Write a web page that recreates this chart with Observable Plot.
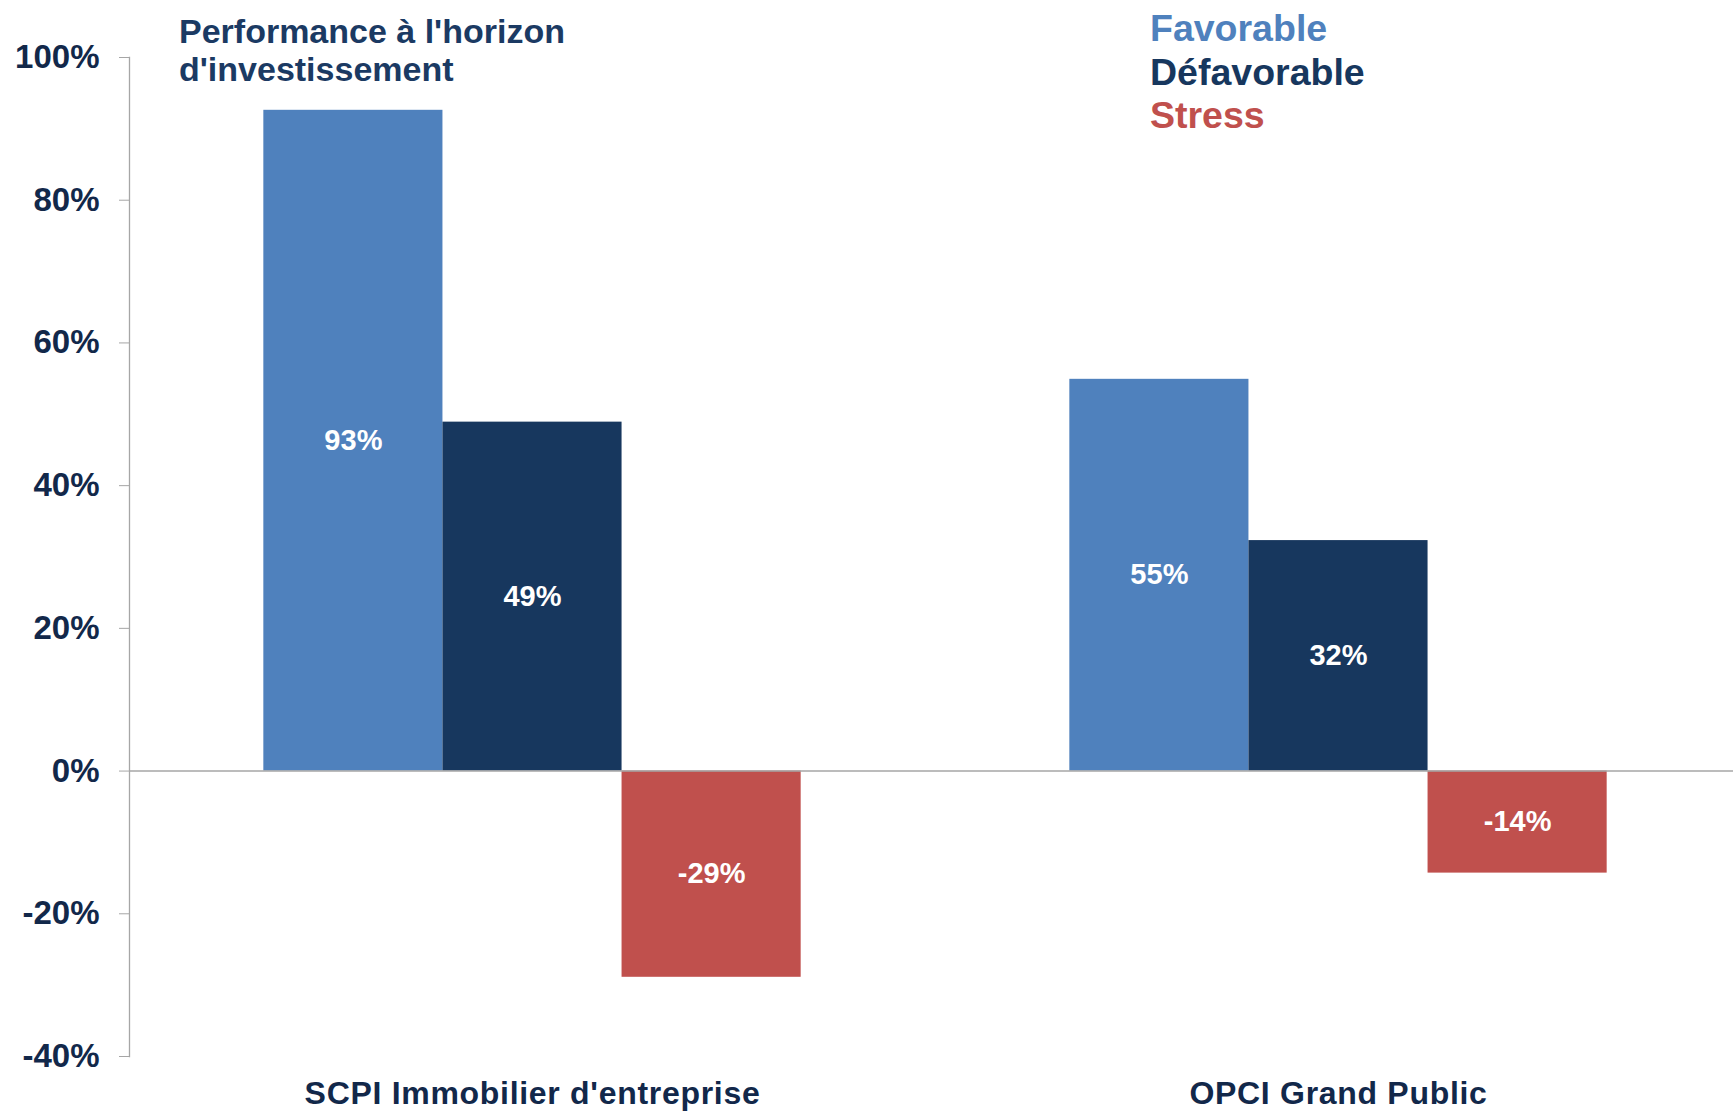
<!DOCTYPE html>
<html>
<head>
<meta charset="utf-8">
<script src="https://cdn.jsdelivr.net/npm/d3@7"></script>
<script src="https://cdn.jsdelivr.net/npm/@observablehq/plot@0.6"></script>
<style>
  html, body { margin: 0; padding: 0; background: #fff; overflow: hidden; }
  #wrap { position: relative; width: 1733px; height: 1114px; overflow: hidden; font-family: "Liberation Sans", Arial, sans-serif; }
  #chart { position: absolute; left: 0; top: 0; width: 1741px; height: 1114px; }
  #chart svg { max-width: none !important; }
  #chart g[aria-label="fx-axis tick label"] text { letter-spacing: 0.7px; }
  #title { position: absolute; left: 179px; top: 11.5px; font-size: 34px; line-height: 38.5px; font-weight: bold; color: #1b3a63; white-space: nowrap; }
  #legend { position: absolute; left: 1150px; top: 7px; font-size: 37.5px; line-height: 43.5px; font-weight: bold; white-space: nowrap; }
</style>
</head>
<body>
<div id="wrap">
  <div id="chart"></div>
  <div id="title">Performance à l'horizon<br>d'investissement</div>
  <div id="legend"></div>
</div>
<script>
const categories = ["SCPI Immobilier d'entreprise", "OPCI Grand Public"];
const scenarios = ["Favorable", "Défavorable", "Stress"];
const scpiValues = [0.926, 0.489, -0.289];
const opciValues = [0.549, 0.323, -0.143];
const colors = ["#4F81BD", "#17375E", "#C0504D"];
const yTicks = [-0.4, -0.2, 0, 0.2, 0.4, 0.6, 0.8, 1.0];

const fmt = v => Math.round(v * 100) + "%";

const data = [];
[scpiValues, opciValues].forEach((vals, i) => {
  vals.forEach((v, j) => data.push({category: categories[i], scenario: scenarios[j], value: v}));
});

const legend = document.getElementById("legend");
scenarios.forEach((s, i) => {
  const d = document.createElement("div");
  d.textContent = s;
  d.style.color = colors[i];
  legend.appendChild(d);
});

const axisGray = "#a6a6a6";
const textDark = "#12284a";

const chart = Plot.plot({
  width: 1741,
  height: 1114,
  marginLeft: 128,
  marginRight: 0,
  marginTop: 57,
  marginBottom: 58,
  style: {fontFamily: "'Liberation Sans', Arial, sans-serif", background: "transparent", overflow: "visible"},
  fx: {domain: categories, padding: 0, label: null},
  x: {domain: scenarios, paddingInner: 0, paddingOuter: 0.75, round: false, axis: null},
  y: {domain: [-0.4, 1]},
  color: {domain: scenarios, range: colors},
  marks: [
    Plot.frame({anchor: "left", facetAnchor: "left", stroke: axisGray, strokeWidth: 1.3}),
    Plot.barY(data, {fx: "category", x: "scenario", y: "value", fill: "scenario"}),
    Plot.ruleY([0], {stroke: axisGray, strokeWidth: 1.5}),
    Plot.text(data, {
      fx: "category", x: "scenario", y: d => d.value / 2,
      text: d => fmt(d.value), fill: "white", fontSize: 29, fontWeight: "bold"
    }),
    Plot.axisY({
      ticks: yTicks, tickFormat: fmt, tickSize: 10, tickPadding: 20,
      fontSize: 33, fontWeight: "bold", stroke: axisGray, fill: textDark, label: null
    }),
    Plot.axisFx({
      anchor: "bottom", tickSize: 0, tickPadding: 25,
      fontSize: 32, fontWeight: "bold", fill: textDark, label: null
    })
  ]
});
document.getElementById("chart").appendChild(chart);
</script>
</body>
</html>
